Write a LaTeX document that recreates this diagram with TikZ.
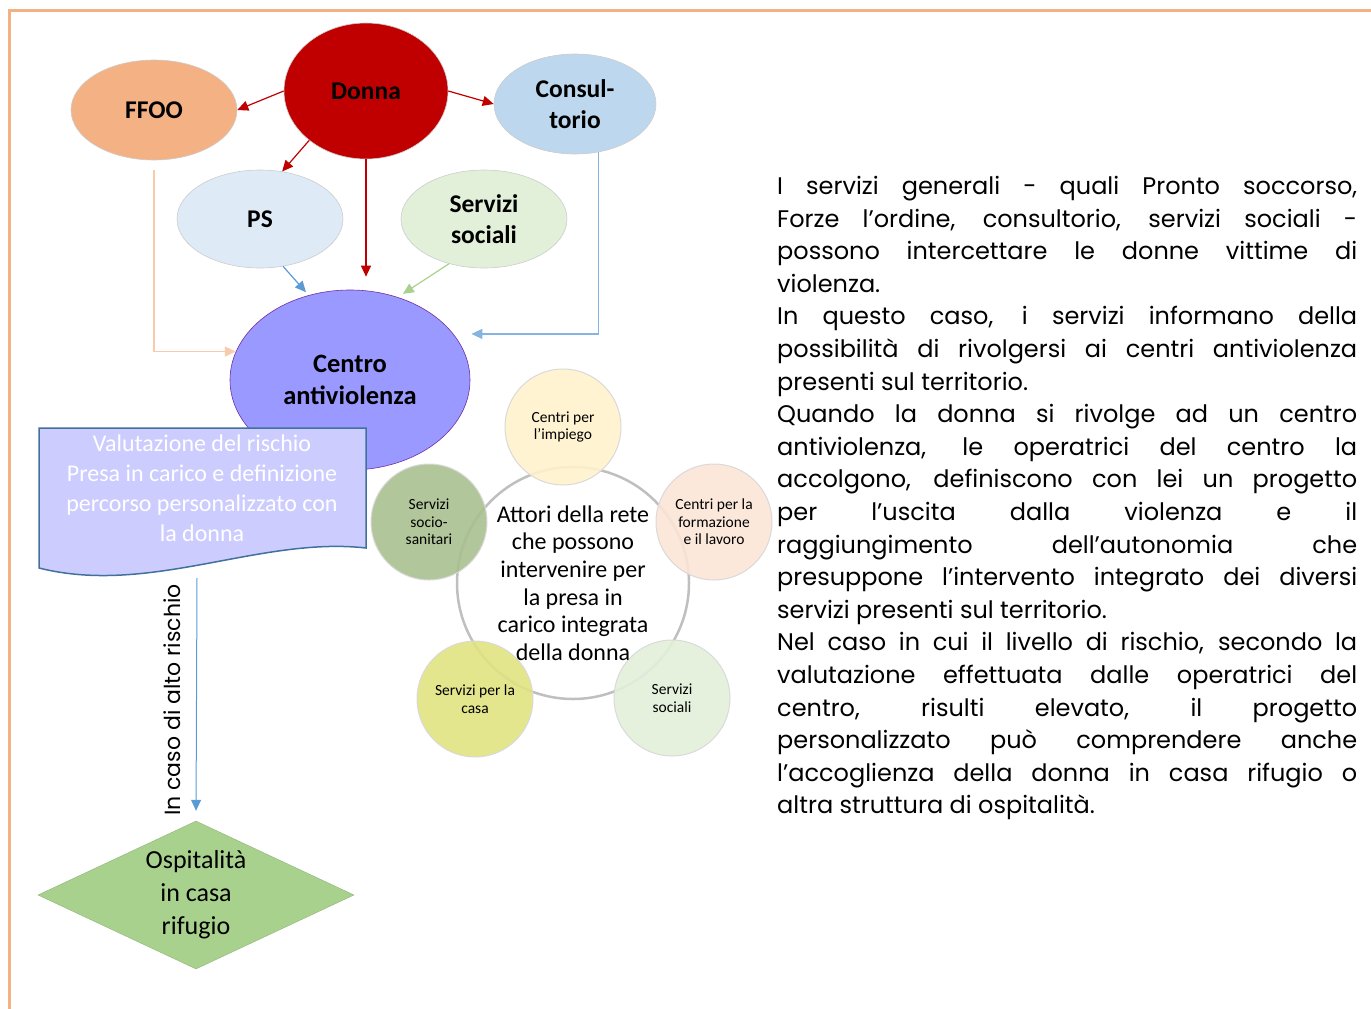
\documentclass[tikz,border=0pt]{standalone}
\usepackage{fontspec}
\setmainfont{Carlito}
\newfontfamily\gothic{Poppins}
\usetikzlibrary{arrows.meta,shapes.geometric}
\setlength{\parindent}{0pt}
\definecolor{frame}{HTML}{F4B183}
\definecolor{ffoo}{HTML}{F4B183}
\definecolor{donna}{HTML}{C00000}
\definecolor{consul}{HTML}{BDD7EE}
\definecolor{ps}{HTML}{DEEBF7}
\definecolor{soc}{HTML}{E2F0D9}
\definecolor{cav}{HTML}{9999FF}
\definecolor{cavline}{HTML}{7030A0}
\definecolor{doc}{HTML}{CCCCFF}
\definecolor{docline}{HTML}{41719C}
\definecolor{arrblue}{HTML}{5B9BD5}
\definecolor{arrgreen}{HTML}{A9D18E}
\definecolor{peach}{HTML}{F8CBAD}
\definecolor{rete}{HTML}{BFBFBF}
\definecolor{impiego}{HTML}{FFF2CC}
\definecolor{formaz}{HTML}{FBE5D6}
\definecolor{sociosan}{HTML}{A9C08F}
\definecolor{casa}{HTML}{E0E381}
\tikzset{
  blob/.style={ellipse,inner sep=0pt,align=center,draw=white!80!black,line width=.6pt,font=\fontsize{25.5}{31}\selectfont\bfseries},
  link/.style={->,line width=1.2pt},
  actor/.style={circle,minimum size=116pt,inner sep=0pt,align=center,draw=black!15,line width=1pt,fill opacity=.9,text opacity=1,font=\fontsize{15.5}{17.5}\selectfont}
}

\begin{document}
\begin{tikzpicture}[x=1pt,y=-1pt,>={Triangle[length=11pt,width=10pt]}]
\useasboundingbox (0,0) rectangle (1371,1009);
\draw[frame,line width=3pt] (9,1009) -- (9,10) -- (1371,10);

\node[blob,fill=ffoo,minimum width=166pt,minimum height=100pt] (ffoo) at (154,110) {FFOO};
\node[blob,fill=donna,minimum width=164pt,minimum height=136pt] (donna) at (366,91) {Donna};
\node[blob,fill=consul,minimum width=162pt,minimum height=100pt] (consul) at (575,104) {Consul-\\torio};
\node[blob,fill=ps,minimum width=166pt,minimum height=98pt] (ps) at (260,219) {PS};
\node[blob,fill=soc,minimum width=166pt,minimum height=98pt] (soc) at (484,219) {Servizi\\sociali};
\node[blob,fill=cav,draw=cavline,minimum width=240pt,minimum height=180pt,font=\fontsize{26.5}{32}\selectfont\bfseries] (cav) at (350,380) {Centro\\antiviolenza};

\draw[link,donna] (donna.west) -- (ffoo.east);
\draw[link,donna] (donna.east) -- (consul.west);
\draw[link,donna] (donna.221) -- (ps.65);
\draw[link,donna] (donna.south) -- ([yshift=13pt]donna.south |- cav.north);
\draw[link,arrblue,shorten >=4pt] (ps.-64) -- (cav.116);
\draw[link,arrgreen,shorten >=6pt] (soc.232) -- (cav.60);
\draw[link,peach,shorten <=10pt] (ffoo.south) |- (cav.166);
\draw[link,arrblue!75,shorten >=18pt] (consul.-64) |- (cav.24);

\draw[fill=doc,draw=docline,line width=1.5pt] (39,428) -- (366,428) -- (366,548) .. controls (260,536) and (150,596) .. (39,568) -- cycle;
\node[text=white,align=center,font=\fontsize{24}{30}\selectfont] (valut) at (202,488) {Valutazione del rischio\\Presa in carico e definizione\\percorso personalizzato con\\la donna};
\coordinate (docfoot) at (197,578);

\node[diamond,aspect=2.135,minimum width=316pt,minimum height=148pt,inner sep=0pt,fill=arrgreen,draw=arrgreen!85!black,align=center,font=\fontsize{26}{33}\selectfont] (rifugio) at (196,895) {Ospitalità\\in casa\\rifugio};
\draw[link,arrblue,line width=1pt,shorten >=10pt] (docfoot) -- (rifugio.north);
\node[rotate=90,font=\gothic\fontsize{22}{26}\selectfont] (alto) at (172,700) {In caso di alto rischio};

\node[circle,minimum size=232pt,draw=rete,line width=2.5pt] (rete) at (573,583) {};
\foreach \nm/\x/\y/\col/\txt in {
imp/563/427/impiego/{Centri per\\l’impiego},
form/714/522/formaz/{Centri per la\\formazione\\e il lavoro},
sosan/429/522/sociosan/{Servizi\\socio-\\sanitari},
casa/475/699/casa/{Servizi per la\\casa},
soci/672/698/soc/{Servizi\\sociali}}
{
  \node[actor,fill=\col] (\nm) at (\x,\y) {\txt};
}
\node[align=center,font=\fontsize{24}{27.6}\selectfont] (retetxt) at (rete) {Attori della rete\\che possono\\intervenire per\\la presa in\\carico integrata\\della donna};

\node[anchor=north west,inner sep=0pt,text width=580pt,align=justify,font=\gothic\fontsize{24}{32.6}\selectfont] (testo) at (777,176) {I servizi generali - quali Pronto soccorso,\linebreak
Forze l’ordine, consultorio, servizi sociali -\linebreak
possono intercettare le donne vittime di\linebreak
violenza.\\
In questo caso, i servizi informano della\linebreak
possibilità di rivolgersi ai centri antiviolenza\linebreak
presenti sul territorio.\\
Quando la donna si rivolge ad un centro\linebreak
antiviolenza, le operatrici del centro la\linebreak
accolgono, definiscono con lei un progetto\linebreak
per l’uscita dalla violenza e il\linebreak
raggiungimento dell’autonomia che\linebreak
presuppone l’intervento integrato dei diversi\linebreak
servizi presenti sul territorio.\\
Nel caso in cui il livello di rischio, secondo la\linebreak
valutazione effettuata dalle operatrici del\linebreak
centro, risulti elevato, il progetto\linebreak
personalizzato può comprendere anche\linebreak
l’accoglienza della donna in casa rifugio o\linebreak
altra struttura di ospitalità.};
\end{tikzpicture}
\end{document}
